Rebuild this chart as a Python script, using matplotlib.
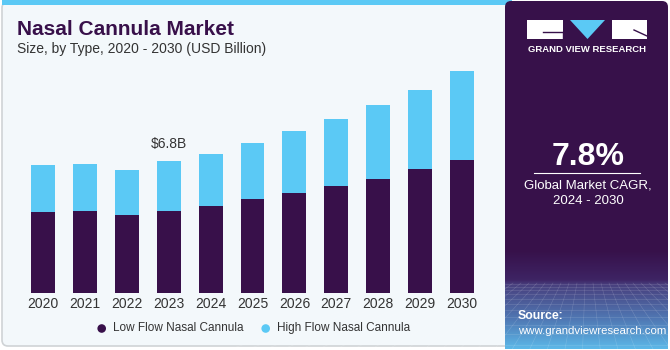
import numpy as np
import matplotlib
matplotlib.use("Agg")
import matplotlib.pyplot as plt
from matplotlib.patches import Rectangle, FancyBboxPatch, Polygon, Circle

plt.rcParams['font.family'] = ['Liberation Sans', 'DejaVu Sans']

years = ["2020", "2021", "2022", "2023", "2024", "2025", "2026", "2027", "2028", "2029", "2030"]
low_flow = [4.17, 4.22, 4.03, 4.24, 4.48, 4.86, 5.15, 5.53, 5.89, 6.42, 6.87]
high_flow = [2.42, 2.46, 2.31, 2.56, 2.71, 2.90, 3.21, 3.46, 3.83, 4.07, 4.58]
series_names = ["Low Flow Nasal Cannula", "High Flow Nasal Cannula"]
annotated_year = "2023"
annotated_text = "$6.8B"
cagr_text = "7.8%"

dark = "#38104a"
cyan = "#5bc9f5"
panel = "#37114a"
bg = "#f3f8fb"
txt = "#333333"

W, H = 670, 350
fig = plt.figure(figsize=(6.7, 3.5), dpi=100)

# decoration layer in pixel coordinates
deco = fig.add_axes([0, 0, 1, 1], zorder=0)
deco.set_xlim(0, W)
deco.set_ylim(H, 0)
deco.axis("off")

deco.add_patch(FancyBboxPatch((2, 2), 520, 344, boxstyle="round,pad=0,rounding_size=6",
                              fc=bg, ec="#cfd3d6", lw=1.2))
deco.add_patch(Rectangle((2, 0), 510, 5, fc=cyan, ec="none"))

# right panel, gradient + faint grid at the bottom
deco.add_patch(FancyBboxPatch((505, 1), 163, 348, boxstyle="round,pad=0,rounding_size=6",
                              fc=panel, ec="none"))
grad = np.linspace(0, 1, 200)[:, None]
cmap = matplotlib.colors.LinearSegmentedColormap.from_list(
    "g", [(0, panel), (0.3, "#3e2464"), (0.35, "#48407e"), (0.7, "#5078b4"), (1, "#5cb8e8")])
deco.imshow(grad, extent=(505, 668, 349, 250), cmap=cmap, aspect="auto", zorder=1)
for i in range(-10, 24):
    x0 = 505 + i * 8
    deco.plot([x0, 587 + (x0 - 587) * 2.2], [283, 349], color="white", lw=0.4, alpha=0.18, zorder=2)
yy = 284.0
step = 3.0
while yy < 349:
    deco.plot([505, 668], [yy, yy], color="white", lw=0.4, alpha=0.18, zorder=2)
    yy += step
    step *= 1.15
deco.set_xlim(0, W)
deco.set_ylim(H, 0)

# logo
deco.add_patch(Rectangle((527, 20), 36, 19, fc="white", ec="none", zorder=3))
deco.plot([543, 563], [32, 32], color=panel, lw=1, zorder=4)
deco.plot([562.5, 562.5], [32, 39], color=panel, lw=1, zorder=4)
deco.add_patch(Polygon([(570, 20), (605, 20), (587.5, 39)], fc=cyan, ec="none", zorder=3))
deco.add_patch(Rectangle((612, 20), 35, 19, fc="white", ec="none", zorder=3))
deco.plot([634, 647], [30, 36], color=panel, lw=1, zorder=4)
deco.text(587, 50, "GRAND VIEW RESEARCH", color="white", fontsize=6.8, fontweight="bold",
          ha="center", va="center", zorder=3)

deco.text(588, 157, cagr_text, color="white", fontsize=23, fontweight="bold",
          ha="center", va="center", zorder=3)
deco.plot([534, 640], [173, 173], color="white", lw=0.8, zorder=3)
deco.text(588, 186, "Global Market CAGR,", color="white", fontsize=9.5, ha="center", va="center", zorder=3)
deco.text(588, 201, "2024 - 2030", color="white", fontsize=9.5, ha="center", va="center", zorder=3)
deco.text(518, 316, "Source:", color="white", fontsize=8.8, fontweight="bold", ha="left", va="center", zorder=3)
deco.text(518, 331, "www.grandviewresearch.com", color="white", fontsize=8.2, ha="left", va="center", zorder=3)

# titles
deco.text(17, 35, "Nasal Cannula Market", color=dark, fontsize=15, fontweight="bold",
          ha="left", va="baseline")
deco.text(17, 53, "Size, by Type, 2020 - 2030 (USD Billion)", color=txt, fontsize=10,
          ha="left", va="baseline")

# legend
for cx, tx, col, name in [(101.7, 112.7, dark, series_names[0]), (265.7, 276.7, cyan, series_names[1])]:
    deco.add_patch(Circle((cx, 328.5), 4.3, fc=col, ec="none"))
    deco.text(tx, 328, name, color=txt, fontsize=8.5, ha="left", va="center")

# bar chart
ax = fig.add_axes([22 / W, 1 - 293.3 / H, 461 / W, 233.3 / H], zorder=1)
ax.patch.set_alpha(0)
x = np.arange(len(years))
ax.bar(x, low_flow, width=0.57, color=dark, edgecolor="none")
ax.bar(x, high_flow, width=0.57, bottom=low_flow, color=cyan, edgecolor="none")
ax.set_xlim(-0.5, len(years) - 0.5)
ax.set_ylim(0, 12.02)
ax.set_xticks(x)
ax.set_xticklabels(years, fontsize=10, color=txt)
ax.tick_params(axis="x", length=0, pad=3)
ax.set_yticks([])
for s in ax.spines.values():
    s.set_visible(False)

i = years.index(annotated_year)
ax.text(i, low_flow[i] + high_flow[i] + 0.55, annotated_text, ha="center", va="bottom",
        fontsize=10, color=txt)

fig.savefig("out.png", dpi=100)
